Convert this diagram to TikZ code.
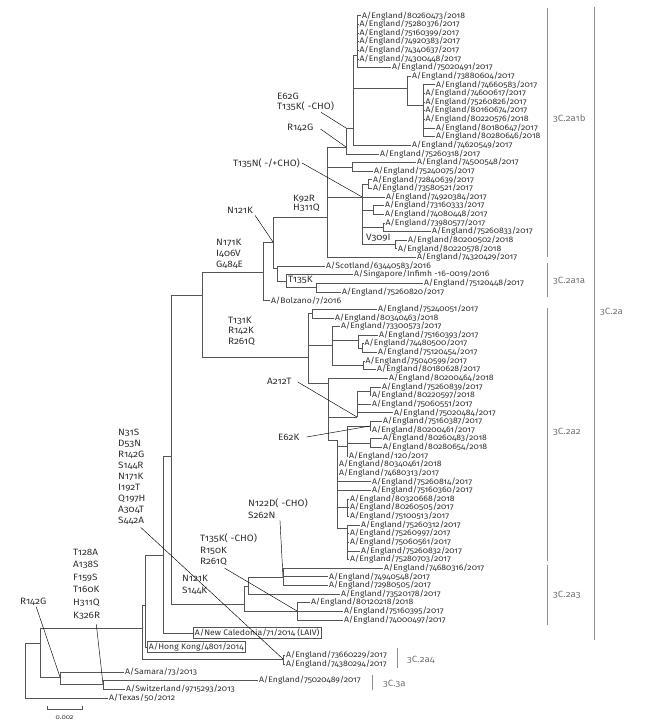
\documentclass[tikz,border=0pt]{standalone}
\usepackage{fontspec}
\setmainfont{Fira Sans}[Numbers=OldStyle, FakeStretch=1.08]
\usetikzlibrary{calc}
\definecolor{treeline}{HTML}{555555}
\definecolor{cladegray}{HTML}{909090}
\definecolor{txt}{HTML}{303030}
\tikzset{
  strain/.style   = {anchor=west, inner sep=0.8pt, text=txt,
                     font=\fontsize{8}{8}\selectfont},
  boxed/.style    = {strain, draw=treeline, line width=0.5pt, inner sep=1.6pt},
  mut/.style      = {anchor=north west, align=left, inner sep=0pt, text=txt,
                     font=\fontsize{9.2}{11}\selectfont},
  mutone/.style   = {anchor=west, inner sep=0pt, text=txt,
                     font=\fontsize{9.2}{11}\selectfont},
  branch/.style   = {draw=treeline, line width=0.55pt},
  pointer/.style  = {draw=black, line width=0.45pt},
  cladebar/.style = {draw=cladegray, line width=0.8pt},
  cladelbl/.style = {anchor=west, inner sep=0pt, text=black!55,
                     font=\fontsize{9}{10}\selectfont},
}

\begin{document}
\begin{tikzpicture}[x=1pt, y=-1pt]
    \useasboundingbox (0,0) rectangle (653,723);

    % Leaves : 3C.2a1b
    \node[strain] (s1)  at (361,15.7)   {A/England/80260473/2018};
    \node[strain] (s2)  at (358.5,24.3) {A/England/75280376/2017};
    \node[strain] (s3)  at (358.5,33.0) {A/England/75160399/2017};
    \node[strain] (s4)  at (358.5,41.6) {A/England/74920383/2017};
    \node[strain] (s5)  at (358.5,50.2) {A/England/74340637/2017};
    \node[strain] (s6)  at (358.5,58.9) {A/England/74300448/2017};
    \node[strain] (s7)  at (391,67.5)   {A/England/75020491/2017};
    \node[strain] (s8)  at (411,76.1)   {A/England/73880604/2017};
    \node[strain] (s9)  at (435,84.7)   {A/England/74660583/2017};
    \node[strain] (s10) at (424.5,93.4) {A/England/74600617/2017};
    \node[strain] (s11) at (424.5,102.0){A/England/75260826/2017};
    \node[strain] (s12) at (424.5,110.6){A/England/80160674/2017};
    \node[strain] (s13) at (424.5,119.3){A/England/80220576/2018};
    \node[strain] (s14) at (435,127.9)  {A/England/80180647/2017};
    \node[strain] (s15) at (435,136.5)  {A/England/80280646/2018};
    \node[strain] (s16) at (411,145.2)  {A/England/74620549/2017};
    \node[strain] (s17) at (379,153.8)  {A/England/75260318/2017};
    \node[strain] (s18) at (416,162.4)  {A/England/74500548/2017};
    \node[strain] (s19) at (373,171.0)  {A/England/75240075/2017};
    \node[strain] (s20) at (372,179.7)  {A/England/72840639/2017};
    \node[strain] (s21) at (372,188.3)  {A/England/73580521/2017};
    \node[strain] (s22) at (385,196.9)  {A/England/74920384/2017};
    \node[strain] (s23) at (384,205.6)  {A/England/73160333/2017};
    \node[strain] (s24) at (384,214.2)  {A/England/74080448/2017};
    \node[strain] (s25) at (384.5,222.8){A/England/73980577/2017};
    \node[strain] (s26) at (431,231.5)  {A/England/75260833/2017};
    \node[strain] (s27) at (407,240.1)  {A/England/80200502/2018};
    \node[strain] (s28) at (397,248.7)  {A/England/80220578/2018};
    \node[strain] (s29) at (416,257.3)  {A/England/74320429/2017};

    % Leaves : 3C.2a1a
    \node[strain] (s30) at (325,266.0)  {A/Scotland/63440583/2016};
    \node[strain] (s31) at (353,274.6)  {A/Singapore/Infimh -16-0019/2016};
    \node[strain] (s32) at (423,283.2)  {A/England/75120448/2017};
    \node[strain] (s33) at (341,291.9)  {A/England/75260820/2017};
    \node[strain] (s34) at (270,300.5)  {A/Bolzano/7/2016};

    % Leaves : 3C.2a2
    \node[strain] (s35) at (377,309.1)  {A/England/75240051/2017};
    \node[strain] (s36) at (334,317.8)  {A/England/80340463/2018};
    \node[strain] (s37) at (340,326.4)  {A/England/73300573/2017};
    \node[strain] (s38) at (378,335.0)  {A/England/75160393/2017};
    \node[strain] (s39) at (363.5,343.6){A/England/74480500/2017};
    \node[strain] (s40) at (377,352.3)  {A/England/75120454/2017};
    \node[strain] (s41) at (364.5,360.9){A/England/75040599/2017};
    \node[strain] (s42) at (376,369.5)  {A/England/80180628/2017};
    \node[strain] (s43) at (388,378.2)  {A/England/80200464/2018};
    \node[strain] (s44) at (381,386.8)  {A/England/75260839/2017};
    \node[strain] (s45) at (371,395.4)  {A/England/80220597/2018};
    \node[strain] (s46) at (371,404.1)  {A/England/75060551/2017};
    \node[strain] (s47) at (393,412.7)  {A/England/75020484/2017};
    \node[strain] (s48) at (382,421.3)  {A/England/75160387/2017};
    \node[strain] (s49) at (371,429.9)  {A/England/80200461/2017};
    \node[strain] (s50) at (382,438.6)  {A/England/80260483/2018};
    \node[strain] (s51) at (382,447.2)  {A/England/80280654/2018};
    \node[strain] (s52) at (348,455.8)  {A/England/120/2017};
    \node[strain] (s53) at (338,464.5)  {A/England/80340461/2018};
    \node[strain] (s54) at (338,473.1)  {A/England/74680313/2017};
    \node[strain] (s55) at (371,481.7)  {A/England/75260814/2017};
    \node[strain] (s56) at (371,490.4)  {A/England/75160360/2017};
    \node[strain] (s57) at (349,499.0)  {A/England/80320668/2018};
    \node[strain] (s58) at (349,507.6)  {A/England/80260505/2017};
    \node[strain] (s59) at (349,516.2)  {A/England/75100513/2017};
    \node[strain] (s60) at (360,524.9)  {A/England/75260312/2017};
    \node[strain] (s61) at (349,533.5)  {A/England/75260997/2017};
    \node[strain] (s62) at (349,542.1)  {A/England/75060561/2017};
    \node[strain] (s63) at (360,550.8)  {A/England/75260832/2017};
    \node[strain] (s64) at (349,559.4)  {A/England/75280703/2017};

    % Leaves : 3C.2a3
    \node[strain] (s65) at (383,568.0)  {A/England/74680316/2017};
    \node[strain] (s66) at (328,576.7)  {A/England/74940548/2017};
    \node[strain] (s67) at (328,585.3)  {A/England/72980505/2017};
    \node[strain] (s68) at (340,593.9)  {A/England/73520178/2017};
    \node[strain] (s69) at (310,602.5)  {A/England/80120218/2018};
    \node[strain] (s70) at (343,611.2)  {A/England/75160395/2017};
    \node[strain] (s71) at (343,619.8)  {A/England/74000497/2017};

    % Leaves : vaccine strains, 3C.2a4, 3C.3a, outgroups
    \node[boxed]  (s72) at (193,633)    {A/New Caledonia/71/2014 (LAIV)};
    \node[boxed]  (s73) at (147,647)    {A/Hong Kong/4801/2014};
    \node[strain] (s74) at (285,655.4)  {A/England/73660229/2017};
    \node[strain] (s75) at (285,664.0)  {A/England/74380294/2017};
    \node[strain] (s76) at (258,680.5)  {A/England/75020489/2017};
    \node[strain] (s77) at (124,672.2)  {A/Samara/73/2013};
    \node[strain] (s78) at (125,689)    {A/Switzerland/9715293/2013};
    \node[strain] (s79) at (108,698)    {A/Texas/50/2012};

    % Internal nodes
    \coordinate (nQ)   at (357,55);
    \coordinate (nS)   at (423,105);
    \coordinate (nR)   at (407,88);
    \coordinate (nP)   at (353,128);
    \coordinate (nT)   at (346,147);
    \coordinate (nV)   at (352,167);
    \coordinate (nZa)  at (368,184);
    \coordinate (nX)   at (362,196.9);
    \coordinate (nZb)  at (373,210);
    \coordinate (nZc)  at (383,227);
    \coordinate (nZd)  at (395,244.5);
    \coordinate (nY)   at (327,217);
    \coordinate (nN)   at (273,242);
    \coordinate (nSc)  at (277,268);
    \coordinate (nSg)  at (286,281);
    \coordinate (nTk)  at (316,287);
    \coordinate (nB)   at (263,272);
    \coordinate (nM)   at (202,295);
    \coordinate (nR2)  at (308,357);
    \coordinate (nJ)   at (312,313.4);
    \coordinate (nG)   at (332,345);
    \coordinate (nG1)  at (358,340);
    \coordinate (nG1b) at (362,348);
    \coordinate (nG2)  at (363,365.2);
    \coordinate (nL)   at (328,383);
    \coordinate (nNa)  at (357,417);
    \coordinate (nNb)  at (370,391.1);
    \coordinate (nLb)  at (337,440);
    \coordinate (nNf)  at (347,446);
    \coordinate (nNd)  at (370,426);
    \coordinate (nNe)  at (370,443);
    \coordinate (nH1)  at (347,507.6);
    \coordinate (nH2)  at (347,528);
    \coordinate (nBig) at (171,456);
    \coordinate (nAA)  at (244,604);
    \coordinate (nBB)  at (248,586);
    \coordinate (nDD)  at (283,577);
    \coordinate (nCC)  at (297,611);
    \coordinate (nNC)  at (163,555);
    \coordinate (nHK)  at (145,605);
    \coordinate (nA)   at (142,628);
    \coordinate (nA4)  at (283,659);
    \coordinate (nC3)  at (40,643);
    \coordinate (nR142) at (60,677);
    \coordinate (nSw)  at (103,684);
    \coordinate (nRoot) at (25,670);

    % Branches : 3C.2a1b
    \draw[branch] (nQ) |- (s1.west) (nQ) |- (s2.west) (nQ) |- (s3.west) (nQ) |- (s4.west)
                  (nQ) |- (s5.west) (nQ) |- (s6.west) (nQ) |- (s7.west);
    \draw[branch] (nS) |- (s9.west) (nS) |- (s10.west) (nS) |- (s11.west) (nS) |- (s12.west)
                  (nS) |- (s13.west) (nS) |- (s14.west) (nS) |- (s15.west);
    \draw[branch] (nR) |- (s8.west) (nR) |- (nS);
    \draw[branch] (nP) |- (nQ) (nP) |- (nR) (nP) |- (s16.west);
    \draw[branch] (nT) |- (nP) (nT) |- (s17.west);
    \draw[branch] (nV) |- (s18.west) (nV) |- (s19.west);
    \draw[branch] (nZa) |- (s20.west) (nZa) |- (s21.west);
    \draw[branch] (nZb) |- (s23.west) (nZb) |- (s24.west);
    \draw[branch] (nZc) |- (s25.west) (nZc) |- (s26.west);
    \draw[branch] (nZd) |- (s27.west) (nZd) |- (s28.west);
    \draw[branch] (nX) |- (nZa) (nX) |- (s22.west) (nX) |- (nZb) (nX) |- (nZc) (nX) |- (nZd);
    \draw[branch] (nY) |- (nT) (nY) |- (nV) (nY) |- (nX) (nY) |- (s29.west);

    % Branches : 3C.2a1a and backbone
    \draw[branch] (nTk) |- (s32.west) (nTk) |- (s33.west);
    \draw[branch] (nSg) |- (s31.west) (nSg) |- (nTk);
    \draw[branch] (nSc) |- (s30.west) (nSc) |- (nSg);
    \draw[branch] (nN) |- (nY) (nN) |- (nSc);
    \draw[branch] (nB) |- (nN) (nB) |- (s34.west);
    \draw[branch] (nM) |- (nB) (nM) |- (nR2);

    % Branches : 3C.2a2
    \draw[branch] (nJ) |- (s35.west) (nJ) |- (s36.west);
    \draw[branch] (nG1b) |- (s39.west) (nG1b) |- (s40.west);
    \draw[branch] (nG1) |- (s38.west) (nG1) |- (nG1b);
    \draw[branch] (nG2) |- (s41.west) (nG2) |- (s42.west);
    \draw[branch] (nG) |- (s37.west) (nG) |- (nG1) (nG) |- (nG2);
    \draw[branch] (nNb) |- (s44.west) (nNb) |- (s45.west);
    \draw[branch] (nNa) |- (nNb) (nNa) |- (s46.west) (nNa) |- (s47.west);
    \draw[branch] (nNd) |- (s48.west) (nNd) |- (s49.west);
    \draw[branch] (nNe) |- (s50.west) (nNe) |- (s51.west);
    \draw[branch] (nNf) |- (nNd) (nNf) |- (nNe) (nNf) |- (s52.west);
    \draw[branch] (nH1) |- (s57.west) (nH1) |- (s58.west) (nH1) |- (s59.west);
    \draw[branch] (nH2) |- (s60.west) (nH2) |- (s61.west) (nH2) |- (s62.west)
                  (nH2) |- (s63.west) (nH2) |- (s64.west);
    \draw[branch] (nLb) |- (nNf) (nLb) |- (s53.west) (nLb) |- (s54.west) (nLb) |- (s55.west)
                  (nLb) |- (s56.west) (nLb) |- (nH1) (nLb) |- (nH2);
    \draw[branch] (nL) |- (s43.west) (nL) |- (nNa) (nL) |- (nLb);
    \draw[branch] (nR2) |- (nJ) (nR2) |- (nG) (nR2) |- (nL);

    % Branches : 3C.2a3, vaccines, root
    \draw[branch] (nDD) |- (s65.west) (nDD) |- (s66.west) (nDD) |- (s67.west);
    \draw[branch] (nBB) |- (nDD) (nBB) |- (s68.west);
    \draw[branch] (nCC) |- (s69.west) (nCC) |- (s70.west) (nCC) |- (s71.west);
    \draw[branch] (nAA) |- (nBB) (nAA) |- (nCC);
    \draw[branch] (nBig) |- (nM) (nBig) |- (nAA);
    \draw[branch] (nNC) |- (nBig) (nNC) |- (s72.west);
    \draw[branch] (nHK) |- (nNC) (nHK) |- (s73.west);
    \draw[branch] (nA4) |- (s74.west) (nA4) |- (s75.west);
    \draw[branch] (nA) |- (nHK) (nA) |- (nA4);
    \draw[branch] (nSw) |- (s76.west) (nSw) |- (s78.west);
    \draw[branch] (nR142) |- (s77.west) (nR142) |- (nSw);
    \draw[branch] (nC3) |- (nA) (nC3) |- (nR142);
    \draw[branch] (nRoot) |- (nC3) (nRoot) |- (s79.west);

    % Substitutions on branches
    \node[mut] (mE62G)   at (277,93.2) {E62G\\[-1pt]T135K( -CHO)};
    \node[mutone] (mR142Gb) at (287,128) {R142G};
    \node[mutone] (mT135N) at (233,163) {T135N( -/+CHO)};
    \node[mut] (mK92R)   at (293,194.5) {K92R\\[-1.5pt]H311Q};
    \node[mutone] (mN121K) at (227,210) {N121K};
    \node[mut] (mN171K)  at (216,238.5) {N171K\\I406V\\G484E};
    \node[mut] (mT131K)  at (228,316.5) {T131K\\[-0.5pt]R142K\\[-0.5pt]R261Q};
    \node[mutone] (mV309I) at (366,238) {V309I};
    \node[mutone] (mT135Kb) at (288,279.5) {T135K};
    \node[mutone] (mA212T) at (267,381) {A212T};
    \node[mutone] (mE62K)  at (278,437) {E62K};
    \node[mut] (mN31S)   at (118,428.5) {N31S\\D53N\\R142G\\S144R\\N171K\\I192T\\Q197H\\A304T\\S442A};
    \node[mut] (mN122D)  at (248,499) {N122D( -CHO)\\[1pt]S262N};
    \node[mut] (mT135K)  at (200,534) {T135K( -CHO)\\[0.5pt]R150K\\[0.5pt]R261Q};
    \node[mut] (mN121Kb) at (182,574.5) {N121K\\[1pt]S144K};
    \node[mut] (mT128A)  at (73,548.5) {T128A\\[1.6pt]A138S\\[1.6pt]F159S\\[1.6pt]T160K\\[1.6pt]H311Q\\[1.6pt]K326R};
    \node[mutone] (mR142Ga) at (20,602) {R142G};

    \draw[pointer] ([xshift=-13pt,yshift=-1pt]mE62G.south east) -- (nT |- nP);
    \draw[pointer] ([xshift=7pt,yshift=-1pt]mR142Gb.east) -- (nT);
    \draw[pointer] ([xshift=2pt]mT135N.east) -- (nX);
    \draw[pointer] ([xshift=2pt,yshift=-2pt]mN121K.south east) -- (nN);
    \draw[pointer] ([xshift=6pt,yshift=-1pt]mA212T.east) -- (nNa);
    \draw[pointer] ([xshift=7pt]mE62K.east) -- (nNd);
    \draw[pointer] ([xshift=-5pt,yshift=-3pt]mN31S.south east) -- (nA4);
    \draw[pointer] ([xshift=2pt,yshift=-1pt]mN122D.south) -- (nDD);
    \draw[pointer] ([xshift=-4pt,yshift=-2pt]mT135K.south) -- (nCC);
    \draw[pointer] ([xshift=-4pt,yshift=-5pt]mT128A.south east) -- (nSw);
    \draw[pointer] ([xshift=3pt,yshift=-1pt]mR142Ga.south) -- (nR142);

    % Clade bars
    \draw[cladebar] (547,8) -- (547,257);
    \draw[cladebar] (547,263) -- (547,297);
    \draw[cladebar] (547,308) -- (547,561);
    \draw[cladebar] (547,565) -- (547,625);
    \draw[cladebar] (594,7) -- (594,640);
    \draw[cladebar] (397,648) -- (397,668);
    \draw[cladebar] (372,675) -- (372,690);
    \node[cladelbl] (c2a1b) at (553,119) {3C.2a1b};
    \node[cladelbl] (c2a1a) at (553,281) {3C.2a1a};
    \node[cladelbl] (c2a2)  at (553,432) {3C.2a2};
    \node[cladelbl] (c2a3)  at (553,595) {3C.2a3};
    \node[cladelbl] (c2a)   at (600,312) {3C.2a};
    \node[cladelbl] (c2a4)  at (407,660) {3C.2a4};
    \node[cladelbl] (c3a)   at (383,684) {3C.3a};

    % Scale bar
    \draw[branch] (47,706) -- (47,709) -- (82,709) -- (82,706);
    \node[font=\fontsize{6.5}{7}\selectfont, text=txt, inner sep=0pt] (sb) at (64.5,718) {0.002};
\end{tikzpicture}
\end{document}
